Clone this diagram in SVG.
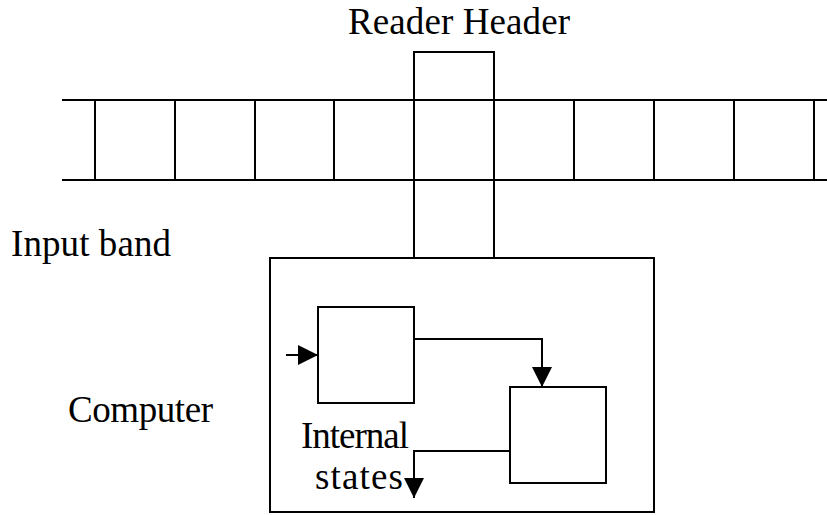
<svg xmlns="http://www.w3.org/2000/svg" width="827" height="515" viewBox="0 0 827 515">
<style>
.s{fill:none;stroke:#000;stroke-width:2}
.t{font-family:"Liberation Serif","Times New Roman",serif;font-size:37px;fill:#000}
</style>
<defs>
<marker id="ah" viewBox="0 0 20 20" markerWidth="20" markerHeight="20" refX="20" refY="10" orient="auto" markerUnits="userSpaceOnUse">
<path d="M0,0 L20,10 L0,20 Z" fill="#000"/>
</marker>
</defs>
<rect width="827" height="515" fill="#fff"/>
<g id="tape">
<line class="s" x1="62" y1="100" x2="827" y2="100"/>
<line class="s" x1="62" y1="180" x2="827" y2="180"/>
<path class="s" d="M95,100V180M175,100V180M255,100V180M334,100V180M574,100V180M654,100V180M734,100V180M814,100V180"/>
</g>
<g id="head">
<rect class="s" x="414" y="52" width="80" height="206"/>
</g>
<g id="computer">
<rect class="s" x="270" y="258" width="384" height="254"/>
</g>
<g id="state1">
<rect class="s" x="318" y="307" width="96" height="96"/>
</g>
<g id="state2">
<rect class="s" x="510" y="387" width="96" height="96"/>
</g>
<g id="connectors">
<path class="s" d="M286,355H318" marker-end="url(#ah)"/>
<path class="s" d="M414,339H542V387" marker-end="url(#ah)"/>
<path class="s" d="M510,451H414V498" marker-end="url(#ah)"/>
</g>
<g id="labels">
<text class="t" x="459" y="34" text-anchor="middle" textLength="222">Reader Header</text>
<text class="t" x="11" y="256" textLength="160">Input band</text>
<text class="t" x="68" y="422" textLength="145">Computer</text>
<text class="t" x="301" y="448" textLength="108">Internal</text>
<text class="t" x="315" y="489" textLength="88">states</text>
</g>
</svg>
